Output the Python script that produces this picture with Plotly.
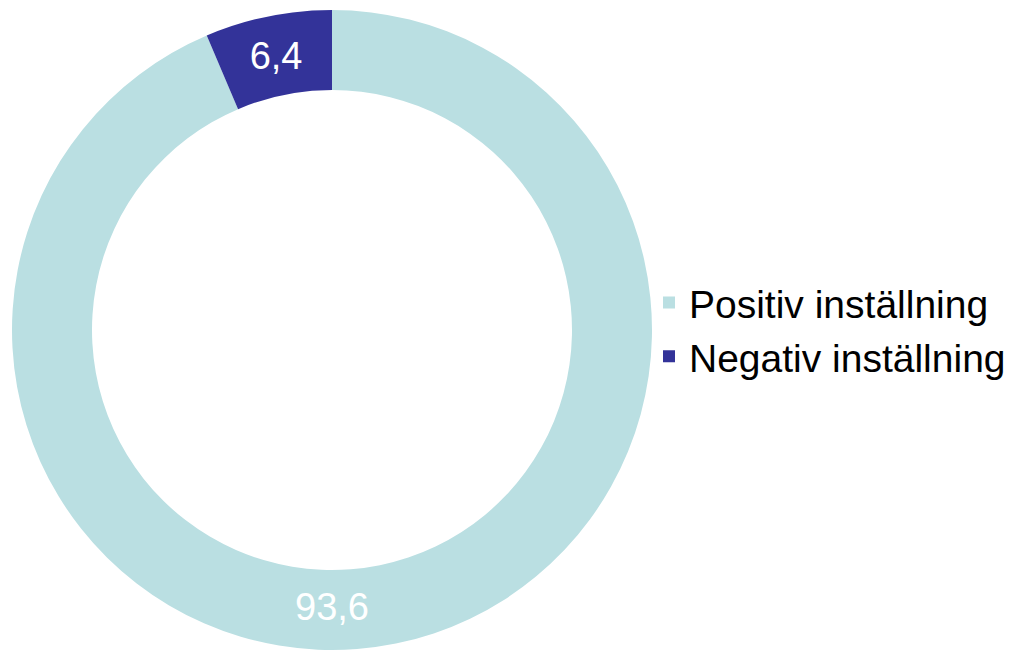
import plotly.graph_objects as go

labels = ["Positiv inställning", "Negativ inställning"]
values = [93.6, 6.4]
text_labels = ["93,6", "6,4"]
colors = ["#BADFE2", "#333399"]

fig = go.Figure()
fig.add_trace(go.Pie(
    labels=labels,
    values=values,
    text=text_labels,
    textinfo="text",
    textposition="inside",
    insidetextorientation="horizontal",
    sort=False,
    direction="clockwise",
    rotation=0,
    hole=0.75,
    marker=dict(colors=colors, line=dict(width=0)),
    textfont=dict(family="Liberation Sans, Arial, sans-serif", size=38, color="white"),
    domain=dict(x=[4/1014, 644/1014], y=[8/650, 648/650]),
))

fig.update_layout(
    width=1014, height=650,
    margin=dict(l=0, r=0, t=0, b=0),
    paper_bgcolor="white",
    plot_bgcolor="white",
    showlegend=True,
    legend=dict(
        x=641/1014, y=0.505, xanchor="left", yanchor="middle",
        bgcolor="rgba(0,0,0,0)",
        font=dict(family="Liberation Sans, Arial, sans-serif", size=39, color="black"),
        itemwidth=30, tracegroupgap=0,
    ),
    uniformtext=dict(minsize=10, mode="show"),
)

fig.write_html("out.html")
